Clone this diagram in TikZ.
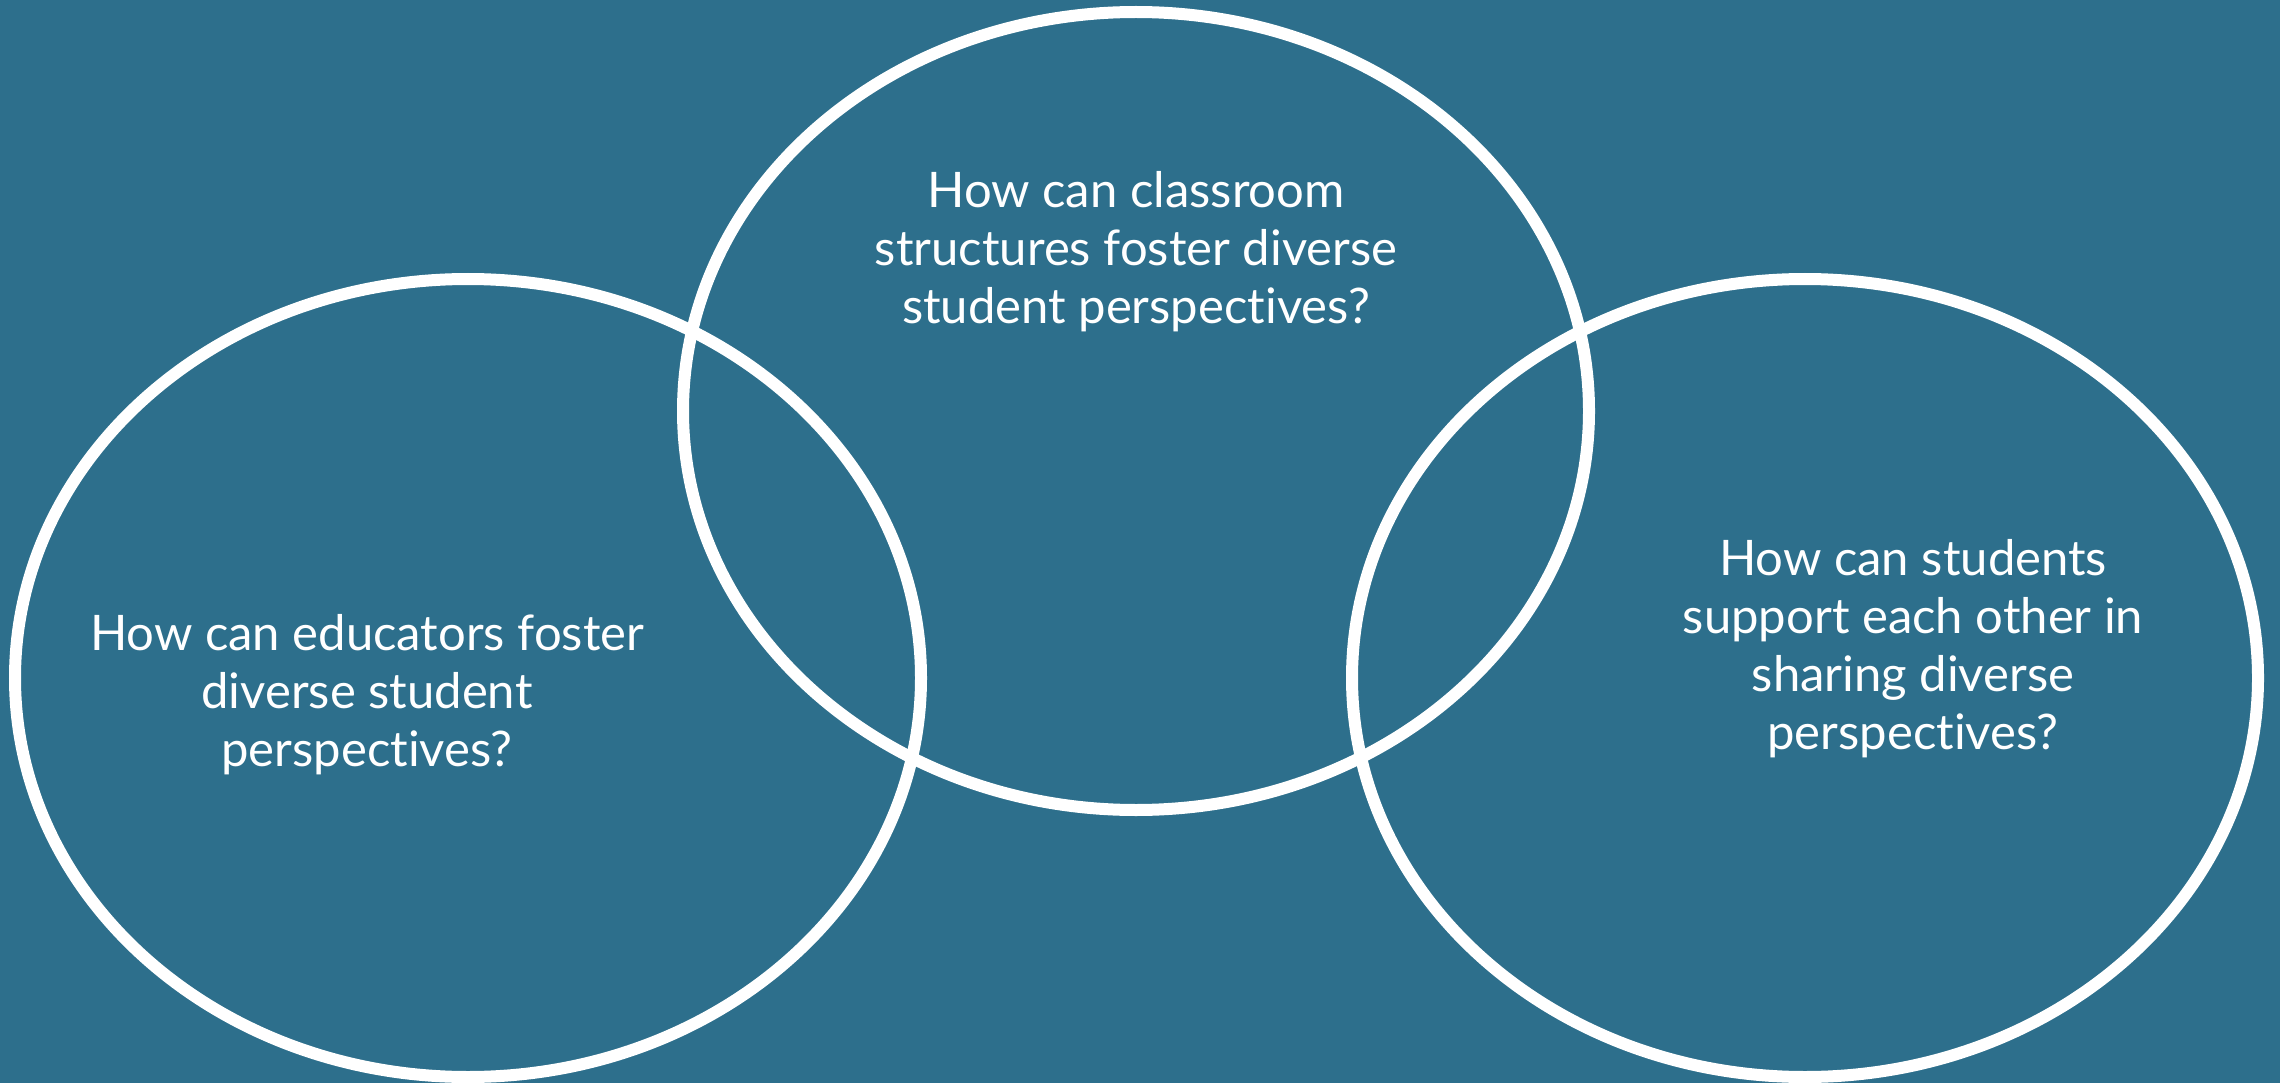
\documentclass[tikz,border=0pt]{standalone}
\usepackage{fontspec}
\setmainfont{Lato}[Ligatures=NoCommon]
\usetikzlibrary{shapes.geometric}
\definecolor{slateteal}{HTML}{2D6F8C}

\begin{document}
\begin{tikzpicture}[x=1pt,y=-1pt]
	\tikzstyle{ring}=[draw=white, line width=12pt, ellipse, minimum width=906pt, minimum height=798pt, inner sep=0pt]
	\tikzstyle{question}=[text=white, align=center, inner sep=0pt, font=\fontsize{49}{58}\selectfont]
	\fill [slateteal] (0,0) rectangle (2280,1083);
	\useasboundingbox (0,0) rectangle (2280,1083);
	\node [ring] (educators) at (468,678) {};
	\node [ring] (classroom) at (1136,411) {};
	\node [ring] (students) at (1805,678) {};
	\node [question] (educatorsq) at (367,695) {How can educators foster\\diverse student\\perspectives?};
	\node [question] (classroomq) at (1136,252) {How can classroom\\structures foster diverse\\student perspectives?};
	\node [question] (studentsq) at (1913,649) {How can students\\support each other in\\sharing diverse\\perspectives?};
\end{tikzpicture}
\end{document}
